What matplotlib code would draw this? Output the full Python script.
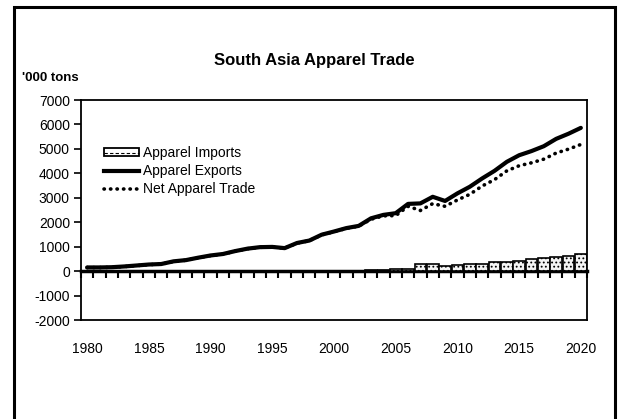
import matplotlib
matplotlib.use("Agg")
import matplotlib.pyplot as plt
from matplotlib.patches import Rectangle, Patch
from matplotlib.lines import Line2D
from matplotlib.legend_handler import HandlerTuple
import numpy as np

plt.rcParams['font.family'] = ['Liberation Sans', 'DejaVu Sans']
plt.rcParams['hatch.color'] = '#a0a0a0'
plt.rcParams['hatch.linewidth'] = 0.8

years = list(range(1980, 2021))
exports = [150, 150, 160, 190, 230, 270, 290, 400, 450, 550,
           640, 700, 820, 920, 980, 990, 940, 1150, 1250, 1490,
           1620, 1760, 1850, 2160, 2300, 2370, 2750, 2770, 3040, 2870,
           3180, 3450, 3790, 4100, 4470, 4740, 4910, 5110, 5410, 5620,
           5860]
imports = [5, 5, 5, 5, 5, 5, 5, 5, 5, 5,
           5, 5, 5, 5, 5, 5, 5, 5, 5, 5,
           10, 10, 10, 40, 40, 100, 100, 290, 280, 220,
           270, 310, 310, 360, 370, 430, 480, 530, 580, 630,
           680]
net_trade = [145, 145, 155, 185, 225, 265, 285, 395, 445, 545,
             635, 695, 815, 915, 975, 985, 935, 1145, 1245, 1485,
             1610, 1750, 1840, 2120, 2260, 2270, 2650, 2480, 2760, 2650,
             2910, 3140, 3480, 3740, 4100, 4310, 4430, 4580, 4830, 4990,
             5180]
xtick_labels = ['1980', '1985', '1990', '1995', '2000', '2005', '2010', '2015', '2020']
yticks = [-2000, -1000, 0, 1000, 2000, 3000, 4000, 5000, 6000, 7000]

W, H = 621, 419
fig = plt.figure(figsize=(W / 100, H / 100), dpi=100)
ax = fig.add_axes([81 / W, 1 - 320 / H, (587 - 81) / W, (320 - 100) / H])

x = np.arange(len(years))
ax.bar(x, imports, width=0.95, facecolor='#f4f4f4', edgecolor='black',
       linewidth=1.2, hatch='....', zorder=2)
ax.plot(x, exports, color='black', lw=3.0, solid_capstyle='round', zorder=3)
net_style = dict(color='black', lw=2.6, linestyle=(0, (0.1, 1.7)),
                 dash_capstyle='round')
ax.plot(x, net_trade, zorder=4, **net_style)

ax.set_xlim(-0.5, len(years) - 0.5)
ax.set_ylim(-2000, 7000)
ax.set_yticks(yticks)
ax.set_yticklabels([str(v) for v in yticks], fontsize=10)
ax.tick_params(axis='y', direction='out', length=5, width=1.2, pad=3)

# category labels at the bottom
lab_pos = [years.index(int(s)) for s in xtick_labels]
ax.set_xticks(lab_pos)
ax.set_xticklabels(xtick_labels, fontsize=10)
ax.tick_params(axis='x', length=0, pad=16)

for s in ax.spines.values():
    s.set_linewidth(1.3)

# zero axis with ticks at category boundaries
sec = ax.secondary_xaxis(0, transform=ax.transData)
sec.set_xticks(np.arange(len(years) + 1) - 0.5)
sec.set_xticklabels([])
sec.tick_params(direction='out', length=5, width=1.5)
sec.spines['bottom'].set_linewidth(2.5)

handles = [(Patch(facecolor='white', edgecolor='black', linewidth=1.3),
            Line2D([], [], color='black', lw=0.8, linestyle=(0, (3, 2)))),
           Line2D([], [], color='black', lw=3.0),
           Line2D([], [], **net_style)]
labels = ['Apparel Imports', 'Apparel Exports', 'Net Apparel Trade']
fig.legend(handles, labels, loc='upper left', bbox_to_anchor=(104 / W, 1 - 146 / H),
           frameon=False, fontsize=10, borderpad=0, borderaxespad=0,
           handlelength=2.5, handletextpad=0.3, handleheight=0.5,
           labelspacing=0.3, handler_map={tuple: HandlerTuple(ndivide=1, pad=0)})

fig.text(314 / W, 1 - 61 / H, 'South Asia Apparel Trade', fontsize=12,
         fontweight='bold', ha='center', va='center')
fig.text(22 / W, 1 - 78 / H, "'000 tons", fontsize=9.5, fontweight='bold',
         ha='left', va='center')

fig.add_artist(Rectangle((13.5 / W, -0.05), (615 - 13.5) / W, 1.05 - 7.5 / H,
                         transform=fig.transFigure, fill=False,
                         edgecolor='black', linewidth=2.2))

fig.savefig('out.png', dpi=100)
